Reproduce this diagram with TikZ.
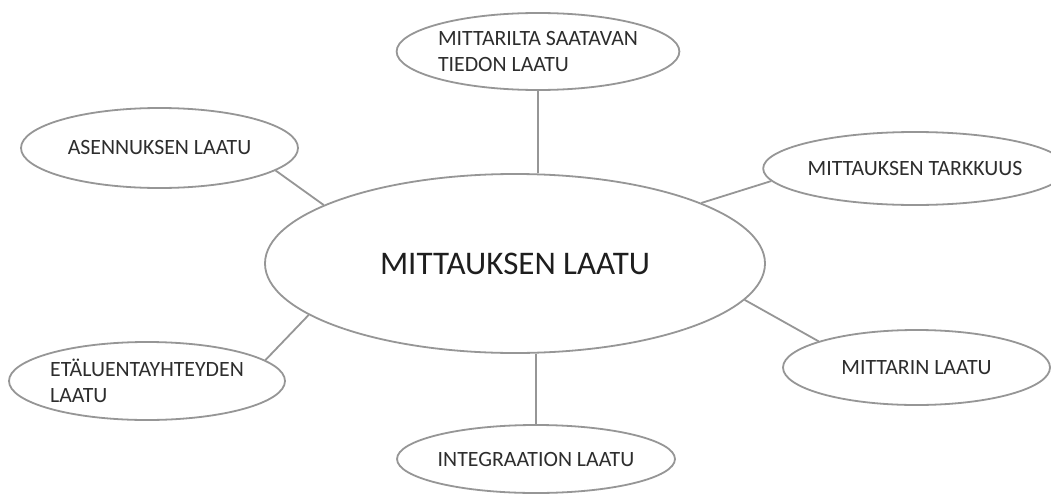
\documentclass[tikz,border=0pt]{standalone}
\usepackage{fontspec}
\setmainfont{Carlito}
\usetikzlibrary{shapes.geometric}
\definecolor{linegray}{RGB}{150,150,150}
\definecolor{txtgray}{RGB}{45,45,45}
\definecolor{darktxt}{RGB}{30,30,30}
\begin{document}
\begin{tikzpicture}[x=1pt,y=-1pt,
  bubble/.style={ellipse, draw=linegray, line width=1.8pt, inner sep=0pt,
    text=txtgray, font=\fontsize{21.8}{25.5}\selectfont, align=left},
  link/.style={draw=linegray, line width=1.8pt}]
\useasboundingbox (0,0) rectangle (1051,495);
\fill[white] (0,0) rectangle (1051,495);
\node[bubble, minimum width=500pt, minimum height=179pt,
  font=\fontsize{33}{39}\selectfont, text=darktxt] (main) at (515,263.5) {MITTAUKSEN LAATU};
\node[bubble, minimum width=276pt, minimum height=77pt] (tieto) at (538,51.5) {MITTARILTA SAATAVAN\\TIEDON LAATU};
\node[bubble, minimum width=277pt, minimum height=80pt] (asen) at (159.5,148) {ASENNUKSEN LAATU};
\node[bubble, minimum width=270pt, minimum height=73pt] (tark) at (915,168.5) {MITTAUKSEN TARKKUUS};
\node[bubble, minimum width=276pt, minimum height=78pt] (eta) at (147,381) {ETÄLUENTAYHTEYDEN\\LAATU};
\node[bubble, minimum width=267pt, minimum height=75pt] (mittarin) at (916.5,367.5) {MITTARIN LAATU};
\node[bubble, minimum width=276pt, minimum height=68pt] (integ) at (536,459) {INTEGRAATION LAATU};
\draw[link] (tieto.south) -- (tieto.south |- main.north);
\draw[link] (integ.north) -- (integ.north |- main.south);
\draw[link] (asen.-11) -- (main.163.5);
\draw[link] (tark.185) -- (main.18);
\draw[link] (eta.10) -- (main.194.5);
\draw[link] (mittarin.165) -- (main.-9.5);
\end{tikzpicture}
\end{document}
